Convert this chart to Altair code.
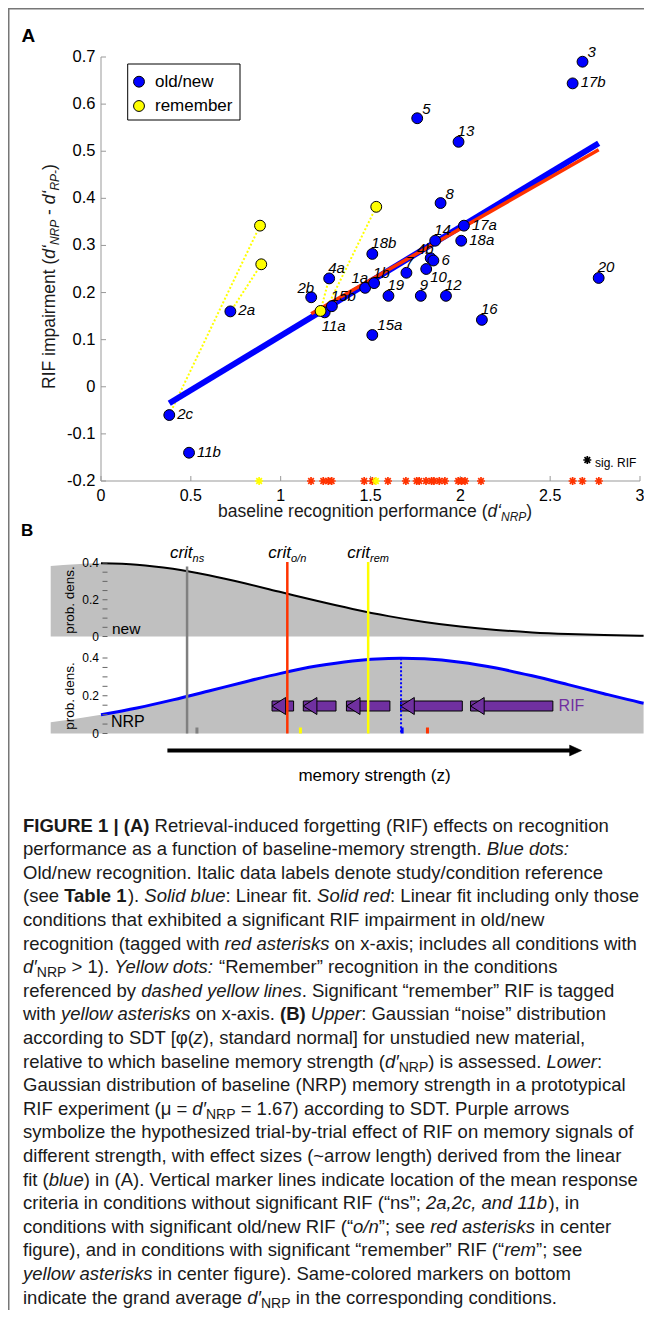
import altair as alt
import pandas as pd

FONT = "Liberation Sans, Arial, Helvetica, sans-serif"

# ===================== PANEL A DATA =====================
COND = ["1a", "1b", "2a", "2b", "2c", "3", "4a", "4b", "5", "6", "7", "8", "9", "10",
        "11a", "11b", "12", "13", "14", "15a", "15b", "16", "17a", "17b", "18a", "18b", "19", "20"]
D_NRP = [1.47, 1.52, 0.72, 1.17, 0.38, 2.68, 1.27, 1.835, 1.76, 1.85, 1.70, 1.89, 1.78, 1.81,
         1.245, 0.49, 1.92, 1.99, 1.86, 1.51, 1.285, 2.12, 2.02, 2.625, 2.005, 1.51, 1.60, 2.77]
RIF_ON = [0.21, 0.22, 0.16, 0.19, -0.06, 0.69, 0.23, 0.273, 0.57, 0.268, 0.242, 0.39, 0.193, 0.25,
          0.158, -0.14, 0.193, 0.52, 0.31, 0.11, 0.171, 0.142, 0.342, 0.644, 0.31, 0.282, 0.193, 0.231]
REM_D = [0.885, 0.892, 1.532, 1.222]
REM_RIF = [0.342, 0.260, 0.382, 0.161]
LINK_D = [0.380, 0.722, 1.245, 1.270]
LINK_RIF = [-0.060, 0.160, 0.158, 0.231]
FIT_ALL_D = [0.38, 2.77]
FIT_ALL_RIF = [-0.035, 0.517]
FIT_SIG_D = [1.17, 2.77]
FIT_SIG_RIF = [0.155, 0.503]
SIG_ON_D = [1.169, 1.237, 1.265, 1.284, 1.465, 1.51, 1.597, 1.697, 1.757, 1.771, 1.809, 1.84,
            1.853, 1.883, 1.914, 1.988, 2.007, 2.026, 2.115, 2.625, 2.679, 2.771]
SIG_REM_D = [0.88, 1.53]
XA_TICKS = [0, 0.5, 1, 1.5, 2, 2.5, 3]
XA_LABELS = ["0", "0.5", "1", "1.5", "2", "2.5", "3"]
YA_TICKS = [0.7, 0.6, 0.5, 0.4, 0.3, 0.2, 0.1, 0, -0.1, -0.2]
YA_LABELS = ["0.7", "0.6", "0.5", "0.4", "0.3", "0.2", "0.1", "0", "-0.1", "-0.2"]

# ===================== PANEL B DATA =====================
Z_GRID = [-0.28, 0, 0.2, 0.4, 0.6, 0.8, 1.0, 1.2, 1.4, 1.6, 1.8, 2.0, 2.2, 2.4, 2.6, 2.8, 3.0, 3.02]
NEW_PDF = [0.3836, 0.3989, 0.3910, 0.3683, 0.3332, 0.2897, 0.2420, 0.1942, 0.1497, 0.1109,
           0.0790, 0.0540, 0.0355, 0.0224, 0.0136, 0.0079, 0.0044, 0.0042]
Z_GRID_NRP = [-0.28, 0, 0.2, 0.4, 0.6, 0.8, 1.0, 1.2, 1.4, 1.6, 1.67, 1.8, 2.0, 2.2, 2.4, 2.6, 2.8, 3.0, 3.02]
NRP_PDF = [0.0596, 0.0989, 0.1354, 0.1781, 0.2251, 0.2732, 0.3187, 0.3572, 0.3847, 0.3980, 0.3989,
           0.3956, 0.3778, 0.3467, 0.3056, 0.2589, 0.2107, 0.1647, 0.1604]
NRP_MEAN = [1.67]
NRP_PEAK = [0.3989]
CRIT_NAME = ["ns", "o/n", "rem"]
CRIT_Z = [0.479, 1.037, 1.487]
ARROW_TIP_Z = [0.952, 1.126, 1.366, 1.668, 2.057]
ARROW_TAIL_Z = [1.072, 1.308, 1.608, 2.011, 2.515]
AVG_NAME = ["ns", "rem", "all", "o/n"]
AVG_Z = [0.534, 1.110, 1.676, 1.817]
PDF_TICKS = [0, 0.05, 0.1, 0.15, 0.2, 0.25, 0.3, 0.35, 0.4]
PDF_LABEL_AT = [0, 0.2, 0.4]
PDF_LABELS = ["0", "0.2", "0.4"]

# ===================== STYLE =====================
BLUE, YEL, RED, GRAYL, FILL, PURPLE, AXIS = "#0000ff", "#ffff00", "#ff3300", "#808080", "#c0c0c0", "#7030a0", "#999999"
CRIT_COLOR = {"ns": GRAYL, "o/n": RED, "rem": YEL}
AVG_COLOR = {"ns": GRAYL, "rem": YEL, "all": BLUE, "o/n": RED}
LABEL_PLACE = {"1a": "ul", "1b": "u", "2a": "r", "2b": "ul", "2c": "r", "3": "ur", "4a": "u", "4b": "ul",
               "5": "ur", "6": "r", "7": "u", "8": "ur", "9": "u", "10": "dr", "11a": "d", "11b": "r",
               "12": "u", "13": "u", "14": "u", "15a": "ur", "15b": "u", "16": "u", "17a": "r", "17b": "r",
               "18a": "r", "18b": "u", "19": "u", "20": "u"}
PLACE = {"u": (-1, -10.5, "left"), "ur": (5, -9.5, "left"), "r": (8, -1, "left"),
         "ul": (3, -9.5, "right"), "dr": (4, 8, "left"), "d": (-3, 14, "left")}
AST = "M0,-1L0,1M-1,0L1,0M-0.7,-0.7L0.7,0.7M-0.7,0.7L0.7,-0.7"
HEAD_L = "M0,0L1.6,-1L1.6,1Z"
HEAD_R = "M0,0L-2,-0.9L-2,0.9Z"

W, H = 636, 1302
XS = alt.Scale(domain=[0, 3], range=[93, 632], nice=False, zero=False)
YA = alt.Scale(domain=[-0.2, 0.7], range=[473, 49], nice=False, zero=False)
YU = alt.Scale(domain=[0, 0.4], range=[628.5, 555], nice=False, zero=False)
YL = alt.Scale(domain=[0, 0.4], range=[725.5, 650], nice=False, zero=False)

ONE = pd.DataFrame({"k": [0]})

# ---- text width helper (Arial/Helvetica metrics) ----
REG = {}
REG.update(dict(zip(" !\"#$%&'()*+,-./", [278, 278, 355, 556, 556, 889, 667, 191, 333, 333, 389, 584, 278, 333, 278, 278])))
REG.update({c: 556 for c in "0123456789"})
REG.update(dict(zip(":;<=>?", [278, 278, 584, 584, 584, 556])))
REG.update(dict(zip("ABCDEFGHIJKLMNOPQRSTUVWXYZ", [667, 667, 722, 722, 667, 611, 778, 722, 278, 500, 667, 556, 833,
                                                  722, 778, 667, 778, 722, 667, 611, 722, 667, 944, 667, 667, 611])))
REG.update(dict(zip("abcdefghijklmnopqrstuvwxyz", [556, 556, 500, 556, 556, 278, 556, 556, 222, 222, 500, 222, 833,
                                                  556, 556, 556, 556, 333, 500, 278, 556, 500, 722, 500, 500, 500])))
REG.update(dict(zip("[]|~“”‘’′φμ", [278, 278, 260, 584, 333, 333, 222, 222, 191, 600, 556])))
BOLD = dict(REG)
BOLD.update(dict(zip("ABCDEFGHIJKLMNOPQRSTUVWXYZ", [722, 722, 722, 722, 667, 611, 778, 722, 278, 556, 722, 611, 833,
                                                   722, 778, 667, 778, 722, 667, 611, 722, 667, 944, 667, 667, 611])))
BOLD.update(dict(zip("abcdefghijklmnopqrstuvwxyz", [556, 611, 556, 611, 556, 333, 611, 611, 278, 278, 556, 278, 889,
                                                   611, 611, 611, 611, 389, 556, 333, 611, 556, 778, 556, 556, 500])))
BOLD.update({"|": 280})


def text_w(s, size, bold=False):
    t = BOLD if bold else REG
    return sum(t.get(c, 556) for c in s) * size / 1000.0


def rich_rows(pieces, x0, y0, size, sub_size, sub_shift, angle=0):
    rows = []
    pos = 0.0
    for txt, sty in pieces:
        sub = sty.startswith("s")
        bold = "b" in sty
        fs = sub_size if sub else size
        lead = len(txt) - len(txt.lstrip(" "))
        core = txt.strip(" ")
        start = pos + text_w(" " * lead, fs, bold)
        if core:
            if angle == 0:
                x, y = x0 + start, y0 + (sub_shift if sub else 0)
            else:
                x, y = x0 + (sub_shift if sub else 0), y0 - start
            rows.append({"t": core, "x": x, "y": y, "fs": fs,
                         "it": "i" in sty, "b": bold, "ang": angle})
        pos += text_w(txt, fs, bold)
    return rows


def rows_to_layers(rows, color="black"):
    df = pd.DataFrame(rows)
    layers = []
    for (fs, it, b, ang), g in df.groupby(["fs", "it", "b", "ang"]):
        layers.append(
            alt.Chart(g[["t", "x", "y"]]).mark_text(
                font=FONT, fontSize=float(fs), fontStyle="italic" if it else "normal",
                fontWeight="bold" if b else "normal", align="left", baseline="alphabetic",
                angle=float(ang), color=color
            ).encode(x=alt.X("x:Q", scale=None, axis=None), y=alt.Y("y:Q", scale=None, axis=None), text="t:N")
        )
    return layers


def ann_text(text, x, y, size, align="left", baseline="middle", style="normal", weight="normal", angle=0, color="black"):
    return alt.Chart(ONE).mark_text(text=text, font=FONT, fontSize=size, align=align, baseline=baseline,
                                    fontStyle=style, fontWeight=weight, angle=angle, color=color
                                    ).encode(x=alt.value(x), y=alt.value(y))


def xa(f):
    return alt.X(f, type="quantitative", scale=XS, axis=None)


# ===================== PANEL A =====================
pts = pd.DataFrame({"cond": COND, "d": D_NRP, "rif": RIF_ON})
pts["place"] = pts["cond"].map(LABEL_PLACE)
rem = pd.DataFrame({"d": REM_D, "rif": REM_RIF})
links = pd.DataFrame({"d": REM_D, "rif": REM_RIF, "d2": LINK_D, "rif2": LINK_RIF})
fit_all = pd.DataFrame({"d": FIT_ALL_D, "rif": FIT_ALL_RIF})
fit_sig = pd.DataFrame({"d": FIT_SIG_D, "rif": FIT_SIG_RIF})
sig_on = pd.DataFrame({"d": SIG_ON_D, "rif": [YA_TICKS[-1]] * len(SIG_ON_D)})
sig_rem = pd.DataFrame({"d": SIG_REM_D, "rif": [YA_TICKS[-1]] * len(SIG_REM_D)})
xt = pd.DataFrame({"d": XA_TICKS, "lab": XA_LABELS})
yt = pd.DataFrame({"rif": YA_TICKS, "lab": YA_LABELS})
ax_bottom = pd.DataFrame({"d": [XA_TICKS[0], XA_TICKS[-1]], "rif": [YA_TICKS[-1]] * 2})
ax_left = pd.DataFrame({"d": [XA_TICKS[0]] * 2, "rif": [YA_TICKS[-1], YA_TICKS[0]]})

ya = lambda f: alt.Y(f, type="quantitative", scale=YA, axis=None)

A = [
    alt.Chart(ax_bottom).mark_line(color=AXIS, strokeWidth=1).encode(x=xa("d"), y=ya("rif")),
    alt.Chart(ax_left).mark_line(color=AXIS, strokeWidth=1).encode(x=xa("d"), y=ya("rif")),
    alt.Chart(xt).mark_rule(color=AXIS).encode(x=xa("d"), y=alt.value(473), y2=alt.value(468)),
    alt.Chart(yt).mark_rule(color=AXIS).encode(y=ya("rif"), x=alt.value(93), x2=alt.value(98)),
    alt.Chart(xt).mark_text(font=FONT, fontSize=16, align="center", baseline="alphabetic").encode(
        x=xa("d"), y=alt.value(492.5), text="lab:N"),
    alt.Chart(yt).mark_text(font=FONT, fontSize=16.5, align="right", baseline="middle").encode(
        y=ya("rif"), x=alt.value(87.5), text="lab:N"),
    alt.Chart(links).mark_rule(color=YEL, strokeWidth=2, strokeDash=[2, 2]).encode(
        x=xa("d"), y=ya("rif"), x2="d2:Q", y2="rif2:Q"),
    alt.Chart(fit_all).mark_line(color=BLUE, strokeWidth=6, strokeCap="butt").encode(x=xa("d"), y=ya("rif")),
    alt.Chart(fit_sig).mark_line(color=RED, strokeWidth=3.5, strokeCap="butt").encode(x=xa("d"), y=ya("rif")),
    alt.Chart(pts).mark_point(shape="circle", filled=True, size=118, fill=BLUE, stroke="black",
                              strokeWidth=1, opacity=1).encode(x=xa("d"), y=ya("rif")),
    alt.Chart(rem).mark_point(shape="circle", filled=True, size=118, fill=YEL, stroke="black",
                              strokeWidth=1, opacity=1).encode(x=xa("d"), y=ya("rif")),
    alt.Chart(sig_on).mark_point(shape=AST, filled=False, size=64, color=RED, strokeWidth=1.7,
                                 opacity=1).encode(x=xa("d"), y=ya("rif")),
    alt.Chart(sig_rem).mark_point(shape=AST, filled=False, size=64, color=YEL, strokeWidth=1.7,
                                  opacity=1).encode(x=xa("d"), y=ya("rif")),
]
for key, (dx, dy, al) in PLACE.items():
    sub = pts[pts["place"] == key]
    A.append(alt.Chart(sub).mark_text(font=FONT, fontSize=15, fontStyle="italic", align=al,
                                      baseline="middle", dx=dx, dy=dy).encode(
        x=xa("d"), y=ya("rif"), text="cond:N"))

# ===================== PANEL B =====================
new_df = pd.DataFrame({"z": Z_GRID, "p": NEW_PDF, "base": [0] * len(Z_GRID)})
nrp_df = pd.DataFrame({"z": Z_GRID_NRP, "p": NRP_PDF, "base": [0] * len(Z_GRID_NRP)})
ticks_df = pd.DataFrame({"p": PDF_TICKS})
tlab_df = pd.DataFrame({"p": PDF_LABEL_AT, "lab": PDF_LABELS})
arrows = pd.DataFrame({"tip": ARROW_TIP_Z, "tail": ARROW_TAIL_Z})
mean_df = pd.DataFrame({"z": NRP_MEAN, "p": NRP_PEAK, "base": [0]})


def density_layers(df, ys, line_color, line_w):
    yy = lambda f: alt.Y(f, type="quantitative", scale=ys, axis=None)
    return [
        alt.Chart(df).mark_area(color=FILL, interpolate="monotone", opacity=1).encode(
            x=xa("z"), y=yy("p"), y2="base:Q"),
        alt.Chart(df).transform_filter("datum.z >= 0").mark_line(
            color=line_color, strokeWidth=line_w, interpolate="monotone").encode(x=xa("z"), y=yy("p")),
        alt.Chart(ticks_df).mark_rule(color="#666666", strokeWidth=1).encode(
            y=yy("p"), x=alt.value(94.5), x2=alt.value(99.5)),
        alt.Chart(tlab_df).mark_text(font=FONT, fontSize=12, align="right", baseline="middle").encode(
            y=yy("p"), x=alt.value(91), text="lab:N"),
    ]


U = density_layers(new_df, YU, "black", 2)
L = density_layers(nrp_df, YL, BLUE, 3)
L += [
    alt.Chart(arrows).mark_rect(fill=PURPLE, stroke="black", strokeWidth=1).encode(
        x=xa("tip"), x2="tail:Q", y=alt.value(693), y2=alt.value(703)),
    alt.Chart(arrows).mark_point(shape=HEAD_L, filled=True, size=289, fill=PURPLE, stroke="black",
                                 strokeWidth=1, opacity=1).encode(x=xa("tip"), y=alt.value(698)),
    alt.Chart(mean_df).mark_rule(color=BLUE, strokeWidth=2, strokeDash=[2, 2]).encode(
        x=xa("z"), y=alt.Y("p:Q", scale=YL, axis=None), y2="base:Q"),
]
for name, z in zip(CRIT_NAME, CRIT_Z):
    top = 558.5 if name == "ns" else 554
    L.append(alt.Chart(pd.DataFrame({"z": [z]})).mark_rule(color=CRIT_COLOR[name], strokeWidth=2.5).encode(
        x=xa("z"), y=alt.value(top), y2=alt.value(725.5)))
    wc = text_w("crit", 17)
    ws = text_w(name, 11)
    half = (wc + ws) / 2
    L.append(alt.Chart(pd.DataFrame({"z": [z]})).mark_text(
        text="crit", font=FONT, fontSize=17, fontStyle="italic", align="left", baseline="alphabetic",
        dx=-half).encode(x=xa("z"), y=alt.value(550)))
    L.append(alt.Chart(pd.DataFrame({"z": [z]})).mark_text(
        text=name, font=FONT, fontSize=11, fontStyle="italic", align="left", baseline="alphabetic",
        dx=-half + wc).encode(x=xa("z"), y=alt.value(553.5)))
for name, z in zip(AVG_NAME, AVG_Z):
    L.append(alt.Chart(pd.DataFrame({"z": [z]})).mark_rule(color=AVG_COLOR[name], strokeWidth=3).encode(
        x=xa("z"), y=alt.value(719.5), y2=alt.value(725.5)))

# ===================== ANNOTATIONS =====================
N = [
    alt.Chart(ONE).mark_rule(color="#777777", strokeWidth=1.5).encode(
        x=alt.value(0.75), y=alt.value(0), y2=alt.value(H)),
    alt.Chart(ONE).mark_rule(color="#777777", strokeWidth=1.5).encode(
        x=alt.value(0), x2=alt.value(W), y=alt.value(0.75)),
    ann_text("A", 13.5, 33.5, 19, baseline="alphabetic", weight="bold"),
    ann_text("B", 13, 528, 17, baseline="alphabetic", weight="bold"),
    # legend
    alt.Chart(ONE).mark_rect(fill="white", stroke="black", strokeWidth=1).encode(
        x=alt.value(119.7), x2=alt.value(232), y=alt.value(56), y2=alt.value(112)),
    alt.Chart(ONE).mark_point(shape="circle", filled=True, size=118, fill=BLUE, stroke="black",
                              strokeWidth=1, opacity=1).encode(x=alt.value(131), y=alt.value(73.7)),
    alt.Chart(ONE).mark_point(shape="circle", filled=True, size=118, fill=YEL, stroke="black",
                              strokeWidth=1, opacity=1).encode(x=alt.value(131), y=alt.value(98)),
    ann_text("old/new", 147, 73.7, 17),
    ann_text("remember", 147, 98, 17),
    # sig. RIF key
    alt.Chart(ONE).mark_point(shape=AST, filled=False, size=64, color="black", strokeWidth=1.7,
                              opacity=1).encode(x=alt.value(579.3), y=alt.value(452)),
    ann_text("sig. RIF", 587, 455, 12),
    # panel B texts
    ann_text("prob. dens.", 62, 592, 13.5, align="center", angle=270),
    ann_text("prob. dens.", 62, 688, 13.5, align="center", angle=270),
    ann_text("new", 104, 620.5, 15.5),
    ann_text("NRP", 103, 713.5, 16),
    ann_text("RIF", 550.6, 698, 16, color=PURPLE),
    alt.Chart(ONE).mark_rule(color="black", strokeWidth=4).encode(
        x=alt.value(159.4), x2=alt.value(566), y=alt.value(742.5)),
    alt.Chart(ONE).mark_point(shape=HEAD_R, filled=True, size=144, fill="black", stroke="black",
                              strokeWidth=0.5, opacity=1).encode(x=alt.value(573.6), y=alt.value(742.5)),
    ann_text("memory strength (z)", 366.5, 768, 17, align="center"),
]

rows = []
rows += rich_rows([("baseline recognition performance (", "r"), ("d‘", "i"), ("NRP", "si"), (")", "r")],
                  210, 509, 17.5, 12, 4)
rows += rich_rows([("RIF impairment (", "r"), ("d‘", "i"), ("NRP", "si"), (" - ", "r"), ("d‘", "i"),
                   ("RP-", "si"), (")", "r")], 47, 381, 17.5, 12, 4, angle=270)

CAPTION = [
    [("FIGURE 1 | (A)", "b"), (" Retrieval-induced forgetting (RIF) effects on recognition", "r")],
    [("performance as a function of baseline-memory strength. ", "r"), ("Blue dots:", "i")],
    [("Old/new recognition. Italic data labels denote study/condition reference", "r")],
    [("(see ", "r"), ("Table 1", "b"), ("). ", "r"), ("Solid blue", "i"), (": Linear fit. ", "r"),
     ("Solid red", "i"), (": Linear fit including only those", "r")],
    [("conditions that exhibited a significant RIF impairment in old/new", "r")],
    [("recognition (tagged with ", "r"), ("red asterisks", "i"), (" on x-axis; includes all conditions with", "r")],
    [("d′", "i"), ("NRP", "s"), (" > 1). ", "r"), ("Yellow dots:", "i"),
     (" “Remember” recognition in the conditions", "r")],
    [("referenced by ", "r"), ("dashed yellow lines", "i"), (". Significant “remember” RIF is tagged", "r")],
    [("with ", "r"), ("yellow asterisks", "i"), (" on x-axis. ", "r"), ("(B)", "b"), (" ", "r"),
     ("Upper", "i"), (": Gaussian “noise” distribution", "r")],
    [("according to SDT [φ(", "r"), ("z", "i"), ("), standard normal] for unstudied new material,", "r")],
    [("relative to which baseline memory strength (", "r"), ("d′", "i"), ("NRP", "s"),
     (") is assessed. ", "r"), ("Lower", "i"), (":", "r")],
    [("Gaussian distribution of baseline (NRP) memory strength in a prototypical", "r")],
    [("RIF experiment (μ = ", "r"), ("d′", "i"), ("NRP", "s"), (" = 1.67) according to SDT. Purple arrows", "r")],
    [("symbolize the hypothesized trial-by-trial effect of RIF on memory signals of", "r")],
    [("different strength, with effect sizes (~arrow length) derived from the linear", "r")],
    [("fit (", "r"), ("blue", "i"), (") in (A). Vertical marker lines indicate location of the mean response", "r")],
    [("criteria in conditions without significant RIF (“ns”; ", "r"), ("2a,2c, and 11b", "i"), ("), in", "r")],
    [("conditions with significant old/new RIF (“", "r"), ("o/n", "i"), ("”; see ", "r"),
     ("red asterisks", "i"), (" in center", "r")],
    [("figure), and in conditions with significant “remember” RIF (“", "r"), ("rem", "i"), ("”; see", "r")],
    [("yellow asterisks", "i"), (" in center figure). Same-colored markers on bottom", "r")],
    [("indicate the grand average ", "r"), ("d′", "i"), ("NRP", "s"), (" in the corresponding conditions.", "r")],
]
for i, line in enumerate(CAPTION):
    rows += rich_rows(line, 15, 823.5 + i * 23.6, 18.5, 14, 4)

N += rows_to_layers(rows, color="#1a1a1a")

chart = alt.layer(
    alt.layer(*A), alt.layer(*U), alt.layer(*L), alt.layer(*N)
).resolve_scale(x="independent", y="independent").properties(
    width=W, height=H, padding=0, autosize=alt.AutoSizeParams(type="none")
).configure_view(stroke=None).configure(font=FONT)

chart.save("out.html", embed_options={"renderer": "svg", "actions": False})
